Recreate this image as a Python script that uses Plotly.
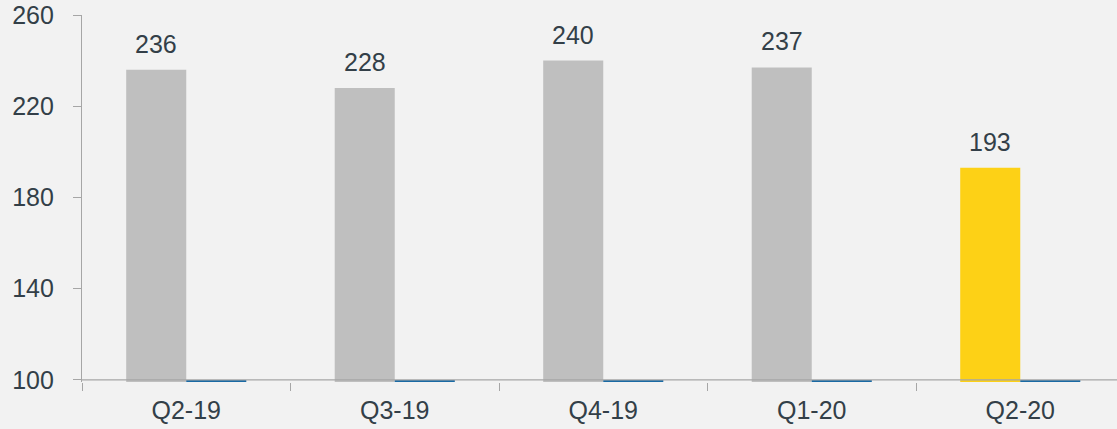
import plotly.graph_objects as go

quarters = ["Q2-19", "Q3-19", "Q4-19", "Q1-20", "Q2-20"]
main_values = [236, 228, 240, 237, 193]
main_colors = ["#bfbfbf", "#bfbfbf", "#bfbfbf", "#bfbfbf", "#fdd116"]
secondary_values = [-0.9, -0.9, -0.9, -0.9, -0.9]
y_ticks = [100, 140, 180, 220, 260]

AXIS = "#a6a6a6"
TEXT = "#333f48"
FONT = "Liberation Sans, Arial, sans-serif"
FS = 25
BARGAP = 0.424

fig = go.Figure()
fig.add_trace(go.Bar(
    x=quarters, y=main_values, marker=dict(color=main_colors, line=dict(width=0)),
    showlegend=False, hoverinfo="x+y", offsetgroup="a",
))
fig.add_trace(go.Bar(
    x=quarters, y=secondary_values, base=100,
    marker=dict(color="#1a6aa4", line=dict(width=0)),
    showlegend=False, hoverinfo="skip", offsetgroup="b",
))

bar_w = 1 - BARGAP
for i, (q, v) in enumerate(zip(quarters, main_values)):
    fig.add_annotation(
        x=i - bar_w / 4, y=v, xref="x", yref="y", text=str(v), showarrow=False,
        yanchor="bottom", xanchor="center", yshift=10,
        font=dict(size=FS, color=TEXT, family=FONT),
    )

fig.add_shape(type="line", xref="paper", x0=0, x1=1, yref="y", y0=100, y1=100,
              line=dict(color=AXIS, width=1.2), layer="above")

fig.update_layout(
    width=1117, height=429,
    margin=dict(l=82, r=0, t=15, b=47, autoexpand=False),
    paper_bgcolor="#f2f2f2", plot_bgcolor="#f2f2f2",
    barmode="group", bargap=BARGAP, bargroupgap=0,
    font=dict(family=FONT, size=FS, color=TEXT),
)
fig.update_xaxes(
    range=[-0.5, 4.464],
    showline=False, showgrid=False, zeroline=False, automargin=False,
    ticks="outside", tickson="boundaries", ticklen=8, tickwidth=1.2, tickcolor=AXIS,
    tickfont=dict(size=FS, color=TEXT, family=FONT), ticklabelstandoff=11,
)
fig.update_yaxes(
    range=[99.1, 260], tickvals=y_ticks, showgrid=False, zeroline=False, automargin=False,
    showline=True, linecolor=AXIS, linewidth=1.2,
    ticks="outside", ticklen=8, tickwidth=1.2, tickcolor=AXIS,
    tickfont=dict(size=FS, color=TEXT, family=FONT), ticklabelstandoff=14,
)

fig.write_html(
    "out.html",
    config={"displayModeBar": False},
    post_script="document.body.style.margin='0px';document.body.style.background='#f2f2f2';",
)
